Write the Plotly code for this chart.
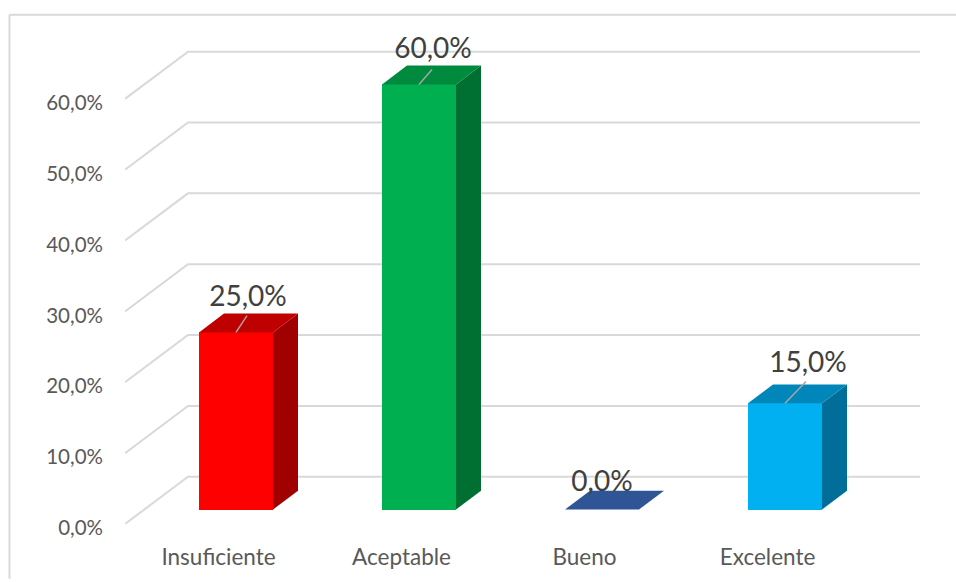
import plotly.graph_objects as go

categories = ["Insuficiente", "Aceptable", "Bueno", "Excelente"]
values = [0.25, 0.60, 0.0, 0.15]
y_ticks = [0.0, 0.1, 0.2, 0.3, 0.4, 0.5, 0.6]
front_colors = ["#FF0000", "#00B050", "#2F5597", "#00B0F0"]
top_colors = ["#BF0000", "#008A3E", "#2F5597", "#0086B8"]
side_colors = ["#A00000", "#006F32", "#1F3864", "#006E99"]

W, H = 956, 582
L, R, T, B = 125, 925, 41, 527
PX_X = 183.0       # pixels per category
PX_Y = 713.0       # pixels per 100 %
GRID = "#D9D9D9"

x0 = -0.5
x1 = x0 + (R - L) / PX_X
y1 = (B - T) / PX_Y

# oblique depth of the chart box, in data units
wall_dx, wall_dy = 63 / PX_X, 47.5 / PX_Y
# the bars' front and back planes inside that box
front_dx, front_dy = 19.5 / PX_X, 14.5 / PX_Y
bar_dx, bar_dy = 25 / PX_X, 19 / PX_Y
half = 37 / PX_X

# hand-placed data labels: offset from the front-top centre of each bar, pixels
label_off = [(12, -34), (14, -34), (0, -26), (23, -39)]
leader_off = [(11, -17), (13, -15), None, (21, -22)]

fig = go.Figure()

shapes = []
for v in y_ticks:
    shapes.append(dict(
        type="path", layer="below", xref="x", yref="y",
        path=(f"M{x0},{v} L{x0 + wall_dx},{v + wall_dy} "
              f"L{x0 + 4 + wall_dx},{v + wall_dy}"),
        line=dict(color=GRID, width=2),
    ))
# outer chart border: only the top and left edges are in the picture
shapes.append(dict(type="line", xref="paper", yref="paper", layer="below",
                   x0=(9.5 - L) / (R - L), x1=(W - L) / (R - L),
                   y0=(B - 14.5) / (B - T), y1=(B - 14.5) / (B - T),
                   line=dict(color=GRID, width=2)))
shapes.append(dict(type="line", xref="paper", yref="paper", layer="below",
                   x0=(9.5 - L) / (R - L), x1=(9.5 - L) / (R - L),
                   y0=(B - 14.5) / (B - T), y1=(B - H) / (B - T),
                   line=dict(color=GRID, width=2)))

centres = [i + front_dx for i in range(len(categories))]

fig.add_trace(go.Bar(
    x=centres, y=values, base=[front_dy] * len(values), width=2 * half,
    marker=dict(color=front_colors, line=dict(width=0)),
    showlegend=False, hoverinfo="skip", cliponaxis=False,
))

for c, v, top, side in zip(centres, values, top_colors, side_colors):
    l, r = c - half, c + half
    yb, yt = front_dy, front_dy + v
    if v > 0:
        fig.add_trace(go.Scatter(
            x=[r, r + bar_dx, r + bar_dx, r, r],
            y=[yb, yb + bar_dy, yt + bar_dy, yt, yb],
            mode="lines", fill="toself", fillcolor=side,
            line=dict(width=0, color=side),
            showlegend=False, hoverinfo="skip", cliponaxis=False))
    fig.add_trace(go.Scatter(
        x=[l, l + bar_dx, r + bar_dx, r, l],
        y=[yt, yt + bar_dy, yt + bar_dy, yt, yt],
        mode="lines", fill="toself", fillcolor=top,
        line=dict(width=0, color=top),
        showlegend=False, hoverinfo="skip", cliponaxis=False))

for c, v, lo in zip(centres, values, leader_off):
    if lo is None:
        continue
    yt = front_dy + v
    fig.add_trace(go.Scatter(
        x=[c, c + lo[0] / PX_X], y=[yt, yt - lo[1] / PX_Y],
        mode="lines", line=dict(color="#A6A6A6", width=1.5),
        showlegend=False, hoverinfo="skip", cliponaxis=False))

fig.add_trace(go.Scatter(
    x=[c + o[0] / PX_X for c, o in zip(centres, label_off)],
    y=[front_dy + v - o[1] / PX_Y for v, o in zip(values, label_off)],
    text=[f"{v * 100:.1f}%".replace(".", ",") for v in values],
    mode="text", textposition="middle center",
    textfont=dict(family="Lato", size=28, color="#404040"),
    showlegend=False, hoverinfo="skip", cliponaxis=False,
))

fig.update_layout(
    width=W, height=H,
    margin=dict(l=L, r=W - R, t=T, b=H - B, pad=0),
    paper_bgcolor="white", plot_bgcolor="white",
    separators=",.",
    bargap=0,
    shapes=shapes,
    showlegend=False,
    xaxis=dict(
        range=[x0, x1], tickmode="array", tickvals=list(range(len(categories))),
        ticktext=categories, showgrid=False, zeroline=False, showline=False,
        ticks="", ticklabelstandoff=17, ticklabelshift=2,
        tickfont=dict(family="Lato", size=22.5, color="#595959"),
    ),
    yaxis=dict(
        range=[0, y1], tickmode="array", tickvals=y_ticks, tickformat=".1%",
        showgrid=False, zeroline=False, showline=False,
        ticks="", ticklabelstandoff=21, ticklabelshift=4,
        tickfont=dict(family="Lato", size=20.5, color="#595959"),
    ),
)

fig.write_html("out.html", config={"displayModeBar": False},
               post_script="document.body.style.margin='0';document.body.style.overflow='hidden';")
